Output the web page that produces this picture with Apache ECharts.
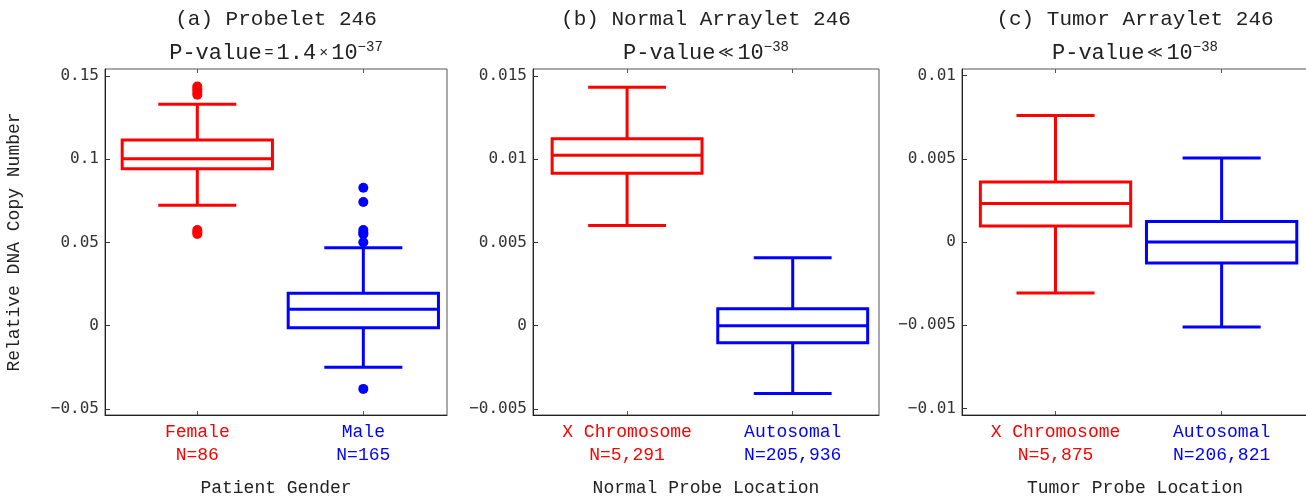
<!DOCTYPE html>
<html><head><meta charset="utf-8">
<script src="https://cdn.jsdelivr.net/npm/echarts@6/dist/echarts.min.js"></script>
<style>html,body{margin:0;padding:0;background:#fff;overflow:hidden}#c{width:1306px;height:497px}</style>
</head><body><div id="c"></div>
<script>
// ---------------- data ----------------
const panelTitles = ['(a) Probelet 246', '(b) Normal Arraylet 246', '(c) Tumor Arraylet 246'];
const pValueRelations = ['=', '≪', '≪'];
const pValueMantissas = ['1.4', '', ''];
const pValueExponents = ['−37', '−38', '−38'];
const xAxisNames = ['Patient Gender', 'Normal Probe Location', 'Tumor Probe Location'];
const yAxisName = 'Relative DNA Copy Number';

const categoriesA = ['Female', 'Male'];
const countsA = ['N=86', 'N=165'];
const categoriesB = ['X Chromosome', 'Autosomal'];
const countsB = ['N=5,291', 'N=205,936'];
const categoriesC = ['X Chromosome', 'Autosomal'];
const countsC = ['N=5,875', 'N=206,821'];

// box statistics: [lower whisker, Q1, median, Q3, upper whisker]
const boxA_red = [0.0724, 0.0944, 0.1004, 0.1116, 0.1331];
const boxA_blue = [-0.0250, -0.0012, 0.0099, 0.0195, 0.0469];
const outliersA_red = [0.1438, 0.1422, 0.1405, 0.1388, 0.0575, 0.0563, 0.0551];
const outliersA_blue = [0.0829, 0.0743, 0.0575, 0.0560, 0.0550, 0.0501, -0.0380];

const boxB_red = [0.00602, 0.00917, 0.01025, 0.01123, 0.01434];
const boxB_blue = [-0.00407, -0.00102, 0.0, 0.00102, 0.00409];

const boxC_red = [-0.00307, 0.00096, 0.00231, 0.00361, 0.00760];
const boxC_blue = [-0.00511, -0.00126, 0.0, 0.00123, 0.00505];

const yTicksA = [-0.05, 0, 0.05, 0.1, 0.15];
const yTicksB = [-0.005, 0, 0.005, 0.01, 0.015];
const yTicksC = [-0.01, -0.005, 0, 0.005, 0.01];
const xPositions = [1, 2];

// ---------------- layout / style ----------------
const RED = '#ff0000', BLUE = '#0000ff';
const MONO = "'Liberation Mono', 'Courier New', monospace";
const NUMF = "'DejaVu Sans Mono', monospace";
const BOX_W = 0.905, CAP_W = 0.47;

const panels = [
  { grid: {left: 105, top: 69, width: 342, height: 346}, x: [0.444, 2.504], y: [-0.0537, 0.1543], ticks: yTicksA,
    cats: categoriesA, counts: countsA, boxes: [boxA_red, boxA_blue], outliers: [outliersA_red, outliersA_blue] },
  { grid: {left: 533, top: 69, width: 346, height: 346}, x: [0.432, 2.521], y: [-0.00537, 0.01543], ticks: yTicksB,
    cats: categoriesB, counts: countsB, boxes: [boxB_red, boxB_blue], outliers: [[], []] },
  { grid: {left: 962, top: 69, width: 346, height: 346}, x: [0.437, 2.52], y: [-0.0104, 0.0104], ticks: yTicksC,
    cats: categoriesC, counts: countsC, boxes: [boxC_red, boxC_blue], outliers: [[], []] }
];
const colors = [RED, BLUE];

function renderBox(params, api) {
  const x = api.value(0);
  const lo = api.coord([x, api.value(1)]);
  const q1 = api.coord([x, api.value(2)]);
  const md = api.coord([x, api.value(3)]);
  const q3 = api.coord([x, api.value(4)]);
  const hi = api.coord([x, api.value(5)]);
  const unit = api.size([1, 0])[0];
  const bw = unit * BOX_W / 2, cw = unit * CAP_W / 2;
  const cx = lo[0];
  const style = {stroke: api.visual('color'), lineWidth: 3, fill: null};
  const L = (x1, y1, x2, y2) => ({type: 'line', shape: {x1, y1, x2, y2}, style});
  return {type: 'group', children: [
    L(cx - cw, lo[1], cx + cw, lo[1]),
    L(cx, lo[1], cx, q1[1]),
    L(cx - cw, hi[1], cx + cw, hi[1]),
    L(cx, hi[1], cx, q3[1]),
    {type: 'rect', shape: {x: cx - bw, y: q3[1], width: 2 * bw, height: q1[1] - q3[1]}, style},
    L(cx - bw, md[1], cx + bw, md[1])
  ]};
}

const grid = [], xAxis = [], yAxis = [], series = [], title = [];
panels.forEach((p, i) => {
  grid.push(Object.assign({show: true, borderColor: '#555', borderWidth: 1, backgroundColor: 'transparent',
    containLabel: false, outerBoundsMode: 'none'}, p.grid));
  const cx = p.grid.left + p.grid.width / 2;
  const cxTitle = i === 2 ? 1135 : cx;
  title.push({
    text: panelTitles[i],
    subtext: '{t|P-value}{op|' + pValueRelations[i] + '}' + (pValueMantissas[i] ? '{t|' + pValueMantissas[i] + '}{op|×}' : '') + '{t|10}{sup|' + pValueExponents[i] + '}',
    left: cxTitle, top: 8, textAlign: 'center', padding: 0, itemGap: 10,
    textStyle: {fontFamily: MONO, fontSize: 21, fontWeight: 'normal', color: '#222', lineHeight: 22},
    subtextStyle: {fontFamily: MONO, fontSize: 22, color: '#222', lineHeight: 26,
      rich: {
        t: {fontFamily: MONO, fontSize: 22, color: '#222', lineHeight: 26},
        op: {fontFamily: MONO, fontSize: 15, color: '#222', lineHeight: 26, padding: [0, 3, 0, 3]},
        sup: {fontFamily: MONO, fontSize: 14, color: '#222', lineHeight: 14, verticalAlign: 'top'}
      }}
  });
  const rich = {};
  colors.forEach((c, k) => { rich['c' + k] = {color: c, fontFamily: MONO, fontSize: 18, lineHeight: 23}; });
  xAxis.push({
    type: 'value', gridIndex: i, min: p.x[0], max: p.x[1], position: 'bottom',
    name: xAxisNames[i], nameLocation: 'middle', nameGap: 64,
    nameTextStyle: {fontFamily: MONO, fontSize: 18, color: '#222'},
    axisLine: {show: true, onZero: false, lineStyle: {color: '#222', width: 1}},
    axisTick: {show: true, inside: true, length: 4, customValues: xPositions, lineStyle: {color: '#555'}},
    axisLabel: {show: true, margin: 6, customValues: xPositions,
      formatter: (v) => { const k = Math.round(v) - 1; return '{c' + k + '|' + p.cats[k] + '}\n{c' + k + '|' + p.counts[k] + '}'; },
      rich},
    splitLine: {show: false}
  });
  xAxis.push({
    type: 'value', gridIndex: i, min: p.x[0], max: p.x[1], position: 'top',
    axisLine: {show: false, onZero: false},
    axisTick: {show: true, inside: true, length: 4, customValues: xPositions, lineStyle: {color: '#555'}},
    axisLabel: {show: false, customValues: xPositions},
    splitLine: {show: false}
  });
  yAxis.push({
    type: 'value', gridIndex: i, min: p.y[0], max: p.y[1],
    name: i === 0 ? yAxisName : '', nameLocation: 'middle', nameGap: 82, nameRotate: 90,
    nameTextStyle: {fontFamily: MONO, fontSize: 18, color: '#222'},
    axisLine: {show: true, onZero: false, lineStyle: {color: '#222', width: 1}},
    axisTick: {show: true, inside: true, length: 5, customValues: p.ticks, lineStyle: {color: '#333'}},
    axisLabel: {show: true, margin: 6, customValues: p.ticks, fontFamily: NUMF, fontSize: 16, color: '#333',
      formatter: (v) => String(v).replace('-', '−')},
    splitLine: {show: false}
  });
  p.boxes.forEach((b, k) => {
    series.push({
      type: 'custom', xAxisIndex: 2 * i, yAxisIndex: i, clip: false,
      itemStyle: {color: colors[k]},
      renderItem: renderBox,
      encode: {x: 0, y: [1, 2, 3, 4, 5]},
      data: [[xPositions[k]].concat(b)],
      z: 3
    });
    if (p.outliers[k].length) {
      series.push({
        type: 'scatter', xAxisIndex: 2 * i, yAxisIndex: i,
        symbol: 'circle', symbolSize: 10, itemStyle: {color: colors[k], opacity: 1},
        data: p.outliers[k].map(v => [xPositions[k], v]), z: 4
      });
    }
  });
});

const chart = echarts.init(document.getElementById('c'), null, {renderer: 'canvas'});
chart.setOption({animation: false, backgroundColor: '#fff', title, grid, xAxis, yAxis, series});
</script>
</body></html>
